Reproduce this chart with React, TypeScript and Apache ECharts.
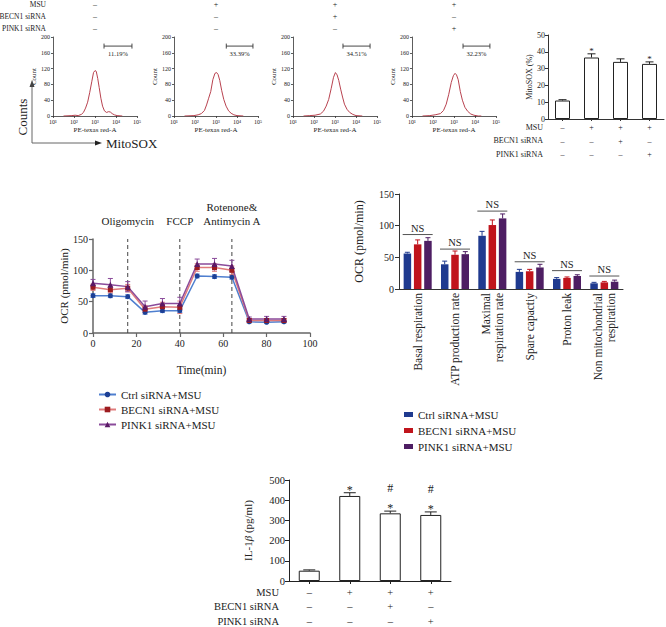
import React, { useEffect, useRef } from "react";
import * as echarts from "echarts";

const FONT = "'Liberation Serif', 'Times New Roman', serif";
const INK = "#222";

// ---------- Panel A: MitoSOX flow histograms (x = log10 intensity, y = count) ----------
const decadeLabels = ["10¹", "10²", "10³", "10⁴", "10⁵"];
const histCtrl = [[1.5, 0], [1.9, 1], [2.05, 2], [2.2, 1], [2.35, 4], [2.45, 9], [2.55, 20], [2.65, 35], [2.75, 60], [2.85, 88], [2.93, 110], [3.0, 115], [3.06, 113], [3.13, 95], [3.2, 72], [3.28, 45], [3.36, 25], [3.45, 13], [3.55, 9], [3.65, 11], [3.73, 10], [3.82, 6], [3.92, 3], [4.05, 1], [4.3, 0]];
const histMsu = [[1.5, 0], [1.95, 1], [2.15, 3], [2.3, 6], [2.45, 14], [2.55, 28], [2.65, 45], [2.75, 62], [2.85, 92], [2.95, 108], [3.03, 110], [3.1, 105], [3.18, 90], [3.27, 65], [3.37, 42], [3.48, 25], [3.6, 13], [3.72, 7], [3.85, 3], [4.0, 1], [4.3, 0]];
const histBecn = [[1.5, 0], [1.8, 1], [2.05, 2], [2.3, 5], [2.45, 12], [2.58, 25], [2.7, 42], [2.82, 70], [2.93, 98], [3.02, 110], [3.1, 104], [3.18, 90], [3.27, 68], [3.36, 48], [3.45, 30], [3.57, 17], [3.7, 9], [3.85, 4], [4.0, 1], [4.3, 0]];
const histPink = [[1.5, 0], [1.85, 1], [2.1, 3], [2.35, 6], [2.5, 14], [2.63, 30], [2.75, 55], [2.87, 85], [2.97, 102], [3.05, 108], [3.12, 104], [3.2, 92], [3.3, 62], [3.4, 40], [3.52, 22], [3.65, 12], [3.8, 5], [3.95, 2], [4.15, 0], [4.3, 0]];
const histograms = [histCtrl, histMsu, histBecn, histPink];
const gatePercents = ["11.19%", "33.39%", "34.51%", "32.23%"];
const gateStart = [3.43, 3.49, 3.38, 3.43];
const gateEnd = [4.76, 4.76, 4.67, 4.71];
const gateLevel = 177;

const rowNames = ["MSU", "BECN1 siRNA", "PINK1 siRNA"];
const msuRow = ["–", "+", "+", "+"];
const becnRow = ["–", "–", "+", "–"];
const pinkRow = ["–", "–", "–", "+"];

// ---------- Panel B: MitoSOX (%) ----------
const mitoGroups = ["g1", "g2", "g3", "g4"];
const mitoPct = [11, 36.6, 34, 32.8];
const mitoErr = [0.5, 2.2, 1.8, 1.2];
const mitoSig = ["", "*", "", "*"];

// ---------- Panel C: OCR time course ----------
const groupNames = ["Ctrl siRNA+MSU", "BECN1 siRNA+MSU", "PINK1 siRNA+MSU"];
const timeMin = [0, 8, 16, 24, 32, 40, 48, 56, 64, 72, 80, 88];
const ocrCtrl = [59.6, 59.5, 58, 33, 35.6, 35.6, 91, 90, 89, 18, 17, 18];
const ocrBecn = [73, 69, 71.5, 38, 42, 41, 104.5, 104.5, 100, 20, 20, 20];
const ocrPink = [79.5, 77, 74, 42, 47, 47, 110, 110, 107, 22.5, 22.5, 22.5];
const errCtrl = [3, 3, 3, 3, 3, 3, 3, 3, 3, 2, 2, 2];
const errBecn = [5, 5, 6, 6, 7, 10, 6, 6, 7, 3, 3, 3];
const errPink = [6, 10, 8, 9, 8, 10, 8, 9, 9, 3, 4, 4];
const injectionTimes = [16, 40, 64];
const injectionNames = ["Oligomycin", "FCCP", "Rotenone&\nAntimycin A"];

// ---------- Panel D: OCR parameters ----------
const ocrParams = ["Basal respiration", "ATP production rate", "Maximal\nrespiration rate", "Spare capactiy", "Proton leak", "Non mitochondrial\nrespiration"];
const parCtrl = [56, 39, 84, 27, 16, 9];
const parBecn = [70.5, 54, 101, 28, 17.5, 10.5];
const parPink = [76, 55, 111.5, 34, 20.5, 11.5];
const parErrCtrl = [2, 5, 7, 4, 2, 1.5];
const parErrBecn = [7, 6, 8, 3, 1.5, 1.5];
const parErrPink = [5, 4, 7, 5, 2, 2.5];
const nsLevel = [86, 63, 123, 43, 29, 20.5];

// ---------- Panel E: IL-1β ----------
const ilGroups = ["g1", "g2", "g3", "g4"];
const ilValues = [51, 421, 335, 327];
const ilErr = [4, 16, 11, 15];
const ilStar = ["", "*", "*", "*"];
const ilHash = ["", "", "#", "#"];

const lineColors = ["#4f7fcf", "#e07b7b", "#8a4b9a"];
const markerColors = ["#1c3f95", "#9c1b1f", "#5a1a66"];
const barColors = ["#1f3a8f", "#c0141c", "#4e1e63"];

const txt = (size: number, extra: any = {}) => ({ fontFamily: FONT, fontSize: size, color: INK, ...extra });
const gtxt = (text: string, size: number, align: string, extra: any = {}) => ({
  text, fontFamily: FONT, fontSize: size, fill: INK, align, verticalAlign: "middle", ...extra,
});

function errUp(offset: number, color: string, capHalf: number, width = 1, star?: string[], hash?: string[], starGap = 3, hashGap = 23, markSize = 12) {
  return (params: any, api: any) => {
    const i = api.value(0);
    const v = api.value(1);
    const e = api.value(2);
    const base = api.coord([i, v]);
    const top = api.coord([i, v + e]);
    const x = base[0] + offset;
    const children: any[] = [
      { type: "line", shape: { x1: x, y1: base[1], x2: x, y2: top[1] }, style: { stroke: color, lineWidth: width } },
      { type: "line", shape: { x1: x - capHalf, y1: top[1], x2: x + capHalf, y2: top[1] }, style: { stroke: color, lineWidth: width } },
    ];
    const idx = params.dataIndex;
    if (star && star[idx]) {
      children.push({ type: "text", x, y: top[1] - starGap, style: gtxt(star[idx], markSize, "center") });
    }
    if (hash && hash[idx]) {
      children.push({ type: "text", x, y: top[1] - hashGap, style: gtxt(hash[idx], markSize, "center") });
    }
    return { type: "group", children };
  };
}

function errBoth(color: string, capHalf: number) {
  return (params: any, api: any) => {
    const t = api.value(0);
    const v = api.value(1);
    const e = api.value(2);
    const lo = api.coord([t, v - e]);
    const hi = api.coord([t, v + e]);
    const x = lo[0];
    return {
      type: "group",
      children: [
        { type: "line", shape: { x1: x, y1: lo[1], x2: x, y2: hi[1] }, style: { stroke: color, lineWidth: 1 } },
        { type: "line", shape: { x1: x - capHalf, y1: lo[1], x2: x + capHalf, y2: lo[1] }, style: { stroke: color, lineWidth: 1 } },
        { type: "line", shape: { x1: x - capHalf, y1: hi[1], x2: x + capHalf, y2: hi[1] }, style: { stroke: color, lineWidth: 1 } },
      ],
    };
  };
}

function buildOption() {
  const grids: any[] = [];
  const xAxes: any[] = [];
  const yAxes: any[] = [];
  const series: any[] = [];
  const decor: any[] = []; // static annotation elements (drawn via a coordinate-free custom series)

  const axisLineStyle = (color = "#333", width = 1) => ({ show: true, onZero: false, lineStyle: { color, width } });

  // ----- Panel A -----
  const histLeft = [53, 174, 293, 412];
  histLeft.forEach((left, k) => {
    grids.push({ left, top: 37, width: 84, height: 79 });
    xAxes.push({
      type: "value", gridIndex: k, min: 1, max: 5, interval: 1,
      axisLine: axisLineStyle("#333", 0.8), axisTick: { show: true, length: 2, lineStyle: { width: 0.8 } },
      axisLabel: { ...txt(6), margin: 3, formatter: (v: number) => decadeLabels[Math.round(v) - 1] ?? "" },
      splitLine: { show: false },
      name: "PE-texas red-A", nameLocation: "middle", nameGap: 10, nameTextStyle: txt(7),
    });
    yAxes.push({
      type: "value", gridIndex: k, min: 0, max: 200, interval: 40,
      axisLine: axisLineStyle("#333", 0.8), axisTick: { show: true, length: 2, lineStyle: { width: 0.8 } },
      axisLabel: { ...txt(6), margin: 3 }, splitLine: { show: false },
      name: "Count", nameLocation: "middle", nameGap: 16, nameTextStyle: txt(7),
    });
    series.push({
      type: "line", xAxisIndex: k, yAxisIndex: k, data: histograms[k], showSymbol: false, symbol: "none",
      lineStyle: { color: "#b8424f", width: 1 }, itemStyle: { color: "#b8424f" }, z: 3,
    });
    series.push({
      type: "custom", xAxisIndex: k, yAxisIndex: k, data: [[gateStart[k], gateEnd[k], gateLevel]],
      renderItem: (params: any, api: any) => {
        const a = api.coord([api.value(0), api.value(2)]);
        const b = api.coord([api.value(1), api.value(2)]);
        return {
          type: "group",
          children: [
            { type: "line", shape: { x1: a[0], y1: a[1], x2: b[0], y2: b[1] }, style: { stroke: "#333", lineWidth: 0.9 } },
            { type: "line", shape: { x1: a[0], y1: a[1] - 2.5, x2: a[0], y2: a[1] + 2.5 }, style: { stroke: "#333", lineWidth: 0.9 } },
            { type: "line", shape: { x1: b[0], y1: b[1] - 2.5, x2: b[0], y2: b[1] + 2.5 }, style: { stroke: "#333", lineWidth: 0.9 } },
            { type: "text", x: (a[0] + b[0]) / 2, y: a[1] + 7, style: gtxt(gatePercents[k], 6.5, "center") },
          ],
        };
      },
    });
    [msuRow, becnRow, pinkRow].forEach((row, r) => {
      decor.push({ type: "text", x: left + 42, y: 4 + 12 * r, style: gtxt(row[k], 8, "center") });
    });
  });
  rowNames.forEach((t, r) => {
    decor.push({ type: "text", x: 46, y: 4 + 12 * r, style: gtxt(t, 7.5, "right") });
  });
  // Counts / MitoSOX arrows
  decor.push({ type: "line", shape: { x1: 32, y1: 143, x2: 32, y2: 86 }, style: { stroke: "#666", lineWidth: 1 } });
  decor.push({ type: "polygon", shape: { points: [[32, 80], [29.5, 87], [34.5, 87]] }, style: { fill: "#444" } });
  decor.push({ type: "line", shape: { x1: 32, y1: 143, x2: 96, y2: 143 }, style: { stroke: "#666", lineWidth: 1 } });
  decor.push({ type: "polygon", shape: { points: [[102, 143], [95, 140.5], [95, 145.5]] }, style: { fill: "#222" } });
  decor.push({ type: "text", x: 22, y: 117, rotation: Math.PI / 2, style: gtxt("Counts", 13, "center") });
  decor.push({ type: "text", x: 106, y: 143, style: gtxt("MitoSOX", 13, "left") });

  // ----- Panel B -----
  grids.push({ left: 548, top: 35, width: 116, height: 84 });
  xAxes.push({
    type: "category", gridIndex: 4, data: mitoGroups,
    axisLine: axisLineStyle("#333", 1), axisTick: { show: true, alignWithLabel: true, length: 2 },
    axisLabel: { ...txt(8), margin: 2, lineHeight: 13.5, interval: 0, formatter: (_v: string, i: number) => `${msuRow[i]}\n${becnRow[i]}\n${pinkRow[i]}` },
  });
  yAxes.push({
    type: "value", gridIndex: 4, min: 0, max: 50, interval: 10,
    axisLine: axisLineStyle("#333", 1), axisTick: { show: true, length: 3 },
    axisLabel: { ...txt(8), margin: 3 }, splitLine: { show: false },
    name: "MitoSOX (%)", nameLocation: "middle", nameGap: 10, nameTextStyle: txt(8),
  });
  series.push({ type: "bar", xAxisIndex: 4, yAxisIndex: 4, data: mitoPct, barWidth: 15, itemStyle: { color: "#fff", borderColor: "#222", borderWidth: 1 } });
  series.push({ type: "custom", xAxisIndex: 4, yAxisIndex: 4, data: mitoPct.map((v, i) => [i, v, mitoErr[i]]), renderItem: errUp(0, "#222", 4, 1, mitoSig, undefined, 3, 0, 9), z: 5 });
  rowNames.forEach((t, r) => {
    decor.push({ type: "text", x: 543, y: 127 + 13.5 * r, style: gtxt(t, 8, "right") });
  });

  // ----- Panel C -----
  grids.push({ left: 93, top: 239, width: 217, height: 94 });
  xAxes.push({
    type: "value", gridIndex: 5, min: 0, max: 100, interval: 20,
    axisLine: axisLineStyle("#666", 1.5), axisTick: { show: true, length: 4, lineStyle: { color: "#666", width: 1.2 } },
    axisLabel: { ...txt(10), margin: 5 }, splitLine: { show: false },
    name: "Time(min)", nameLocation: "middle", nameGap: 31, nameTextStyle: txt(11.5),
  });
  yAxes.push({
    type: "value", gridIndex: 5, min: 0, max: 150, interval: 50,
    axisLine: axisLineStyle("#666", 1.5), axisTick: { show: true, length: 4, lineStyle: { color: "#666", width: 1.2 } },
    axisLabel: { ...txt(10), margin: 5 }, splitLine: { show: false },
    name: "OCR (pmol/min)", nameLocation: "middle", nameGap: 17, nameTextStyle: txt(11),
  });
  series.push({
    type: "custom", xAxisIndex: 5, yAxisIndex: 5, data: injectionTimes.map((t) => [t, 0]),
    renderItem: (params: any, api: any) => {
      const t = api.value(0);
      const lo = api.coord([t, 0]);
      const hi = api.coord([t, 150]);
      return {
        type: "group",
        children: [
          { type: "line", shape: { x1: lo[0], y1: lo[1], x2: hi[0], y2: hi[1] }, style: { stroke: "#444", lineWidth: 1, lineDash: [4, 3] } },
          { type: "text", x: hi[0], y: hi[1] - 11, style: gtxt(injectionNames[params.dataIndex], 11, "center", { lineHeight: 14, verticalAlign: "bottom" }) },
        ],
      };
    },
    z: 1,
  });
  const ocrSets = [ocrCtrl, ocrBecn, ocrPink];
  const ocrErrs = [errCtrl, errBecn, errPink];
  const symbols = ["circle", "rect", "triangle"];
  ocrSets.forEach((vals, s) => {
    series.push({
      type: "custom", xAxisIndex: 5, yAxisIndex: 5, data: timeMin.map((t, i) => [t, vals[i], ocrErrs[s][i]]),
      renderItem: errBoth(lineColors[s], 2.5), z: 2,
    });
  });
  ocrSets.forEach((vals, s) => {
    series.push({
      type: "line", name: groupNames[s], xAxisIndex: 5, yAxisIndex: 5, data: timeMin.map((t, i) => [t, vals[i]]),
      symbol: symbols[s], symbolSize: s === 2 ? 6 : 5, showSymbol: true,
      itemStyle: { color: markerColors[s] }, lineStyle: { color: lineColors[s], width: 1.5 }, z: 3,
    });
  });

  // ----- Panel D -----
  grids.push({ left: 399, top: 194, width: 224, height: 95 });
  xAxes.push({
    type: "category", gridIndex: 6, data: ocrParams,
    axisLine: axisLineStyle("#333", 1), axisTick: { show: false },
    axisLabel: { ...txt(11.5), rotate: 90, margin: 4, lineHeight: 13, interval: 0 },
  });
  yAxes.push({
    type: "value", gridIndex: 6, min: 0, max: 150, interval: 50,
    axisLine: axisLineStyle("#333", 1), axisTick: { show: true, length: 4 },
    axisLabel: { ...txt(10), margin: 5 }, splitLine: { show: false },
    name: "OCR (pmol/min)", nameLocation: "middle", nameGap: 34, nameTextStyle: txt(12),
  });
  const parSets = [parCtrl, parBecn, parPink];
  const parErrs = [parErrCtrl, parErrBecn, parErrPink];
  parSets.forEach((vals, s) => {
    series.push({
      type: "bar", name: groupNames[s] + " ", xAxisIndex: 6, yAxisIndex: 6, data: vals,
      barWidth: 7.5, barGap: "37%", itemStyle: { color: barColors[s] },
    });
  });
  parSets.forEach((vals, s) => {
    series.push({
      type: "custom", xAxisIndex: 6, yAxisIndex: 6, data: vals.map((v, i) => [i, v, parErrs[s][i]]),
      renderItem: errUp((s - 1) * 10.3, barColors[s], 2.5, 1), z: 4,
    });
  });
  series.push({
    type: "custom", xAxisIndex: 6, yAxisIndex: 6, data: nsLevel.map((v, i) => [i, v]),
    renderItem: (params: any, api: any) => {
      const c = api.coord([api.value(0), api.value(1)]);
      return {
        type: "group",
        children: [
          { type: "line", shape: { x1: c[0] - 15, y1: c[1], x2: c[0] + 15, y2: c[1] }, style: { stroke: "#555", lineWidth: 1 } },
          { type: "text", x: c[0], y: c[1] - 1, style: gtxt("NS", 10.5, "center", { verticalAlign: "bottom" }) },
        ],
      };
    },
    z: 5,
  });

  // ----- Panel E -----
  grids.push({ left: 289, top: 480, width: 162, height: 101 });
  xAxes.push({
    type: "category", gridIndex: 7, data: ilGroups,
    axisLine: axisLineStyle("#222", 1), axisTick: { show: true, alignWithLabel: true, length: 3 },
    axisLabel: { ...txt(10.5), margin: 4, lineHeight: 14.5, interval: 0, formatter: (_v: string, i: number) => `${msuRow[i]}\n${becnRow[i]}\n${pinkRow[i]}` },
  });
  yAxes.push({
    type: "value", gridIndex: 7, min: 0, max: 500, interval: 100,
    axisLine: axisLineStyle("#222", 1), axisTick: { show: true, length: 4 },
    axisLabel: { ...txt(10.5), margin: 4 }, splitLine: { show: false },
    name: "IL-1{i|β} (pg/ml)", nameLocation: "middle", nameGap: 36,
    nameTextStyle: { ...txt(11), rich: { i: { fontFamily: FONT, fontSize: 11, fontStyle: "italic", color: INK } } },
  });
  series.push({ type: "bar", xAxisIndex: 7, yAxisIndex: 7, data: ilValues, barWidth: 21, itemStyle: { color: "#fff", borderColor: "#222", borderWidth: 1 } });
  series.push({ type: "custom", xAxisIndex: 7, yAxisIndex: 7, data: ilValues.map((v, i) => [i, v, ilErr[i]]), renderItem: errUp(0, "#222", 6, 1, ilStar, ilHash, 3, 23, 12), z: 5 });
  rowNames.forEach((t, r) => {
    decor.push({ type: "text", x: 279, y: 592.25 + 14.5 * r, style: gtxt(t, 10.5, "right") });
  });

  // static annotations: coordinate-free custom series
  series.push({
    type: "custom", coordinateSystem: "none", data: [[0]], silent: true, z: 6,
    renderItem: () => ({ type: "group", children: decor }),
  });

  return {
    animation: false,
    backgroundColor: "#fff",
    textStyle: { fontFamily: FONT },
    grid: grids.map((g) => ({ ...g, containLabel: false, outerBoundsMode: "none" })),
    xAxis: xAxes,
    yAxis: yAxes,
    legend: [
      {
        data: groupNames, orient: "vertical", left: 93, top: 384, itemGap: 4, itemWidth: 17, itemHeight: 7,
        textStyle: txt(11), selectedMode: false,
      },
      {
        data: groupNames.map((n) => n + " "), orient: "vertical", left: 399, top: 404, itemGap: 5, itemWidth: 9, itemHeight: 5,
        icon: "rect", textStyle: txt(11), selectedMode: false, formatter: (n: string) => n.trim(),
      },
    ],
    series,
  };
}

export default function App() {
  const ref = useRef<HTMLDivElement>(null);
  useEffect(() => {
    if (!ref.current) return;
    const chart = echarts.init(ref.current, undefined, { renderer: "svg", width: 666, height: 627 });
    chart.setOption(buildOption() as any);
    return () => chart.dispose();
  }, []);
  return <div ref={ref} style={{ position: "absolute", left: 0, top: 0, width: 666, height: 627, background: "#fff" }} />;
}
